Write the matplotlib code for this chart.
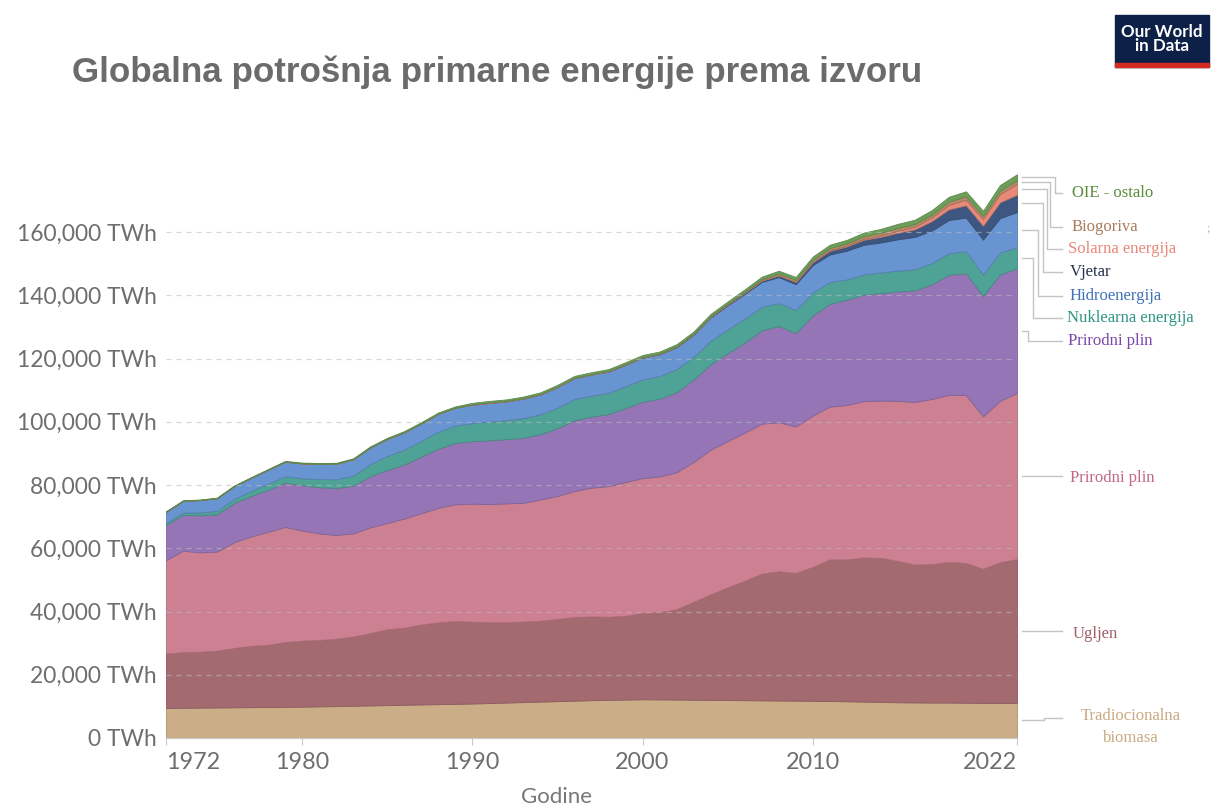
import matplotlib.pyplot as plt
import matplotlib.colors as mcolors
from matplotlib.patches import Rectangle
from matplotlib.lines import Line2D
import numpy as np

W, H = 1218, 806

# godine i vrijednosti (tisuće TWh), očitano sa slike
years = list(range(1972, 2023))

biomasa = [9.50, 9.55, 9.60, 9.65, 9.70, 9.75, 9.80, 9.85, 9.90,
           10.00, 10.10, 10.20, 10.30, 10.40, 10.50, 10.60, 10.70, 10.80, 10.90,
           11.05, 11.20, 11.35, 11.50, 11.65, 11.80, 11.95, 12.05, 12.15, 12.25,
           12.20, 12.15, 12.10, 12.05, 12.00, 11.95, 11.90, 11.85, 11.80, 11.75,
           11.70, 11.60, 11.50, 11.40, 11.30, 11.25, 11.20, 11.20, 11.15, 11.10,
           11.10, 11.10]
ugljen = [17.2, 17.65, 17.7, 18.0, 18.8, 19.4, 19.7, 20.5, 20.9,
          21.0, 21.3, 21.9, 22.9, 24.0, 24.4, 25.3, 25.9, 26.2, 25.9,
          25.6, 25.4, 25.5, 25.6, 26.0, 26.5, 26.5, 26.3, 26.5, 27.3,
          27.6, 28.6, 31.0, 33.4, 35.7, 37.8, 40.1, 40.9, 40.4, 42.4,
          44.8, 44.9, 45.6, 45.6, 44.7, 43.6, 43.8, 44.5, 44.2, 42.4,
          44.5, 45.5]
nafta = [29.6, 32.0, 31.4, 31.3, 33.4, 34.6, 35.7, 36.4, 34.8,
         33.7, 32.8, 32.6, 33.4, 33.6, 34.5, 35.2, 36.2, 36.9, 37.3,
         37.3, 37.6, 37.5, 38.3, 38.9, 39.8, 40.7, 41.3, 42.3, 42.6,
         42.9, 43.3, 44.2, 45.7, 46.2, 46.8, 47.4, 47.1, 46.3, 47.8,
         48.3, 48.8, 49.4, 49.7, 50.6, 51.4, 52.2, 52.8, 53.1, 48.2,
         51.0, 52.5]
plin = [11.1, 11.4, 11.7, 11.8, 12.4, 12.8, 13.3, 14.0, 14.3,
        14.6, 14.8, 15.1, 16.2, 16.8, 17.1, 17.9, 18.7, 19.4, 19.8,
        20.2, 20.3, 20.6, 20.7, 21.4, 22.4, 22.5, 22.8, 23.4, 24.2,
        24.6, 25.3, 26.1, 27.0, 27.8, 28.5, 29.5, 30.4, 29.6, 31.7,
        32.5, 33.3, 33.7, 34.0, 34.6, 35.3, 36.3, 38.0, 38.5, 38.1,
        40.0, 39.4]
nuklearna = [0.55, 0.7, 0.9, 1.1, 1.3, 1.6, 1.9, 2.0, 2.2,
             2.6, 2.8, 3.2, 3.8, 4.4, 4.7, 5.0, 5.4, 5.5, 5.7,
             5.9, 6.0, 6.2, 6.3, 6.5, 6.7, 6.6, 6.7, 6.9, 7.0,
             7.2, 7.3, 7.2, 7.5, 7.5, 7.6, 7.4, 7.3, 7.2, 7.3,
             6.9, 6.4, 6.4, 6.5, 6.6, 6.7, 6.7, 6.8, 7.0, 6.7,
             6.9, 6.7]
hidro = [3.6, 3.7, 3.95, 4.0, 4.05, 4.15, 4.45, 4.65, 4.75,
         4.8, 4.95, 5.15, 5.3, 5.4, 5.5, 5.5, 5.65, 5.65, 5.8,
         5.95, 5.95, 6.2, 6.25, 6.55, 6.6, 6.7, 6.75, 6.8, 6.95,
         6.85, 6.95, 6.95, 7.35, 7.6, 7.8, 7.9, 8.2, 8.2, 8.6,
         8.7, 9.1, 9.35, 9.5, 9.9, 10.2, 10.3, 10.5, 10.6, 11.1,
         10.9, 11.1]
vjetar = [0] * 18 + [0.01, 0.01, 0.01, 0.01, 0.02, 0.02, 0.03, 0.03, 0.04, 0.06, 0.08,
                     0.10, 0.14, 0.17, 0.22, 0.28, 0.35, 0.45, 0.58, 0.73, 0.93,
                     1.15, 1.35, 1.6, 1.8, 2.1, 2.4, 3.0, 3.4, 3.9, 4.4,
                     5.0, 5.5]
solar = [0] * 36 + [0.03, 0.05, 0.08, 0.16, 0.25, 0.34, 0.45, 0.6, 0.8, 1.1,
                    1.4, 1.75, 2.1, 2.6, 3.4]
biogoriva = [0] * 18 + [0.12, 0.12, 0.12, 0.12, 0.12, 0.13, 0.13, 0.13, 0.13, 0.12, 0.12,
                        0.13, 0.15, 0.18, 0.2, 0.25, 0.32, 0.42, 0.55, 0.6, 0.7,
                        0.72, 0.72, 0.78, 0.85, 0.88, 0.9, 0.95, 1.05, 1.1, 1.0,
                        1.1, 1.2]
ostalo = [0.15, 0.16, 0.17, 0.18, 0.19, 0.2, 0.21, 0.22, 0.24,
          0.26, 0.28, 0.3, 0.32, 0.34, 0.36, 0.38, 0.4, 0.42, 0.45,
          0.47, 0.49, 0.5, 0.52, 0.54, 0.55, 0.57, 0.58, 0.6, 0.62,
          0.63, 0.65, 0.67, 0.7, 0.72, 0.75, 0.8, 0.85, 0.9, 0.98,
          1.05, 1.1, 1.15, 1.2, 1.3, 1.35, 1.4, 1.5, 1.55, 1.6,
          1.75, 1.85]

series = [biomasa, ugljen, nafta, plin, nuklearna, hidro, vjetar, solar, biogoriva, ostalo]
area_colors = ['#cbad87', '#a36a70', '#cd8091', '#9575b5', '#4fa396',
               '#6894d2', '#3e5782', '#e98a78', '#b5896a', '#6ca05a']

labels = ['Tradiocionalna\nbiomasa', 'Ugljen', 'Prirodni plin', 'Prirodni plin',
          'Nuklearna energija', 'Hidroenergija', 'Vjetar', 'Solarna energija',
          'Biogoriva', 'OIE - ostalo']
label_colors = ['#c9aa82', '#9c5f68', '#c26884', '#7a48a8', '#2f9584',
                '#3f72b8', '#25304a', '#e8887a', '#a97a5e', '#5b8c3a']

yticks = [0, 20, 40, 60, 80, 100, 120, 140, 160]
xticks = [1972, 1980, 1990, 2000, 2010, 2022]


def fx(x):
    return x / W


def fy(y):
    return 1 - y / H


fig = plt.figure(figsize=(W / 100, H / 100), dpi=100)
ax = fig.add_axes([fx(166), fy(738), (1017 - 166) / W, (738 - 168.75) / H])

polys = ax.stackplot(years, *series, colors=area_colors, linewidth=0.6)
for p, c in zip(polys, area_colors):
    r, g, b = mcolors.to_rgb(c)
    p.set_edgecolor((r * 0.85, g * 0.85, b * 0.85))

ax.set_xlim(1972, 2022)
ax.set_ylim(0, 180)

ax.set_yticks(yticks)
ax.set_yticklabels([f'{v * 1000:,} TWh' if v else '0 TWh' for v in yticks])
ax.yaxis.grid(True, linestyle=(0, (4, 4)), color='#bdbdbd', alpha=0.6, lw=0.9)
ax.set_axisbelow(False)
for gl in ax.yaxis.get_gridlines()[:1]:
    gl.set_visible(False)

ax.set_xticks(xticks)
ax.set_xticklabels([str(x) for x in xticks])
tl = ax.get_xticklabels()
tl[0].set_horizontalalignment('left')
tl[-1].set_horizontalalignment('right')

for s in ['left', 'top', 'right']:
    ax.spines[s].set_visible(False)
ax.spines['bottom'].set_color('#c8c8c8')
ax.tick_params(axis='y', length=0, pad=6.5, labelsize=16.4, labelcolor='#6e6e6e')
ax.tick_params(axis='x', length=5, color='#c8c8c8', pad=5, labelsize=16.8, labelcolor='#6e6e6e')
for t in ax.get_xticklabels() + ax.get_yticklabels():
    t.set_fontfamily('Lato')

fig.text(fx(557), fy(797), 'Godine', ha='center', va='center',
         fontsize=16, color='#777777', family='Lato')

fig.text(fx(72), fy(72), 'Globalna potrošnja primarne energije prema izvoru',
         ha='left', va='center', fontsize=25.2, fontweight='bold',
         color='#6b6b6b', family='Liberation Sans')

# logo
fig.add_artist(Rectangle((fx(1115), fy(67)), 94 / W, 52 / H,
                         transform=fig.transFigure, color='#0d2148'))
fig.add_artist(Rectangle((fx(1115), fy(67)), 94 / W, 4 / H,
                         transform=fig.transFigure, color='#d42b21'))
fig.text(fx(1162), fy(39), 'Our World\nin Data', ha='center', va='center',
         fontsize=12.2, fontweight='bold', color='white', family='Lato',
         linespacing=0.92)

# oznake serija s linijama
cum = np.cumsum(np.array(series), axis=0)
last = cum[:, -1]
bottoms = np.concatenate([[0], last[:-1]])
mids = (last + bottoms) / 2


def pix_y(v):
    return H - ax.transData.transform((2022, v))[1]


label_pos = [(1131, 727), (1073, 634), (1070, 478), (1068, 341),
             (1067, 318), (1070, 296), (1070, 272), (1068, 249),
             (1072, 227), (1072, 193)]
corner_x = [1044, 1044, 1044, 1028, 1033, 1038, 1043, 1047, 1050, 1055]

for i in range(len(series)):
    ys = pix_y(mids[i])
    lx, ly = label_pos[i]
    xc = corner_x[i]
    if i == 0:
        ly_line = ys - 2.5
    elif i in (1, 2):
        ly_line = ys
    else:
        ly_line = ly
    xs = [1022, xc, xc, 1062]
    yss = [ys, ys, ly_line, ly_line]
    fig.add_artist(Line2D([fx(v) for v in xs], [fy(v) for v in yss],
                          transform=fig.transFigure, color='#c4c4c4', lw=1.0))
    if i == 0:
        fig.text(fx(lx), fy(ly), labels[i], ha='center', va='center',
                 fontsize=12, color=label_colors[i], family='Liberation Serif',
                 linespacing=1.45)
    else:
        fig.text(fx(lx), fy(ly), labels[i], ha='left', va='center',
                 fontsize=12, color=label_colors[i], family='Liberation Serif')

fig.text(fx(1208), fy(228), ';', ha='center', va='center', fontsize=9,
         color='#b0b0b0', family='Liberation Serif')

fig.savefig('out.png', dpi=100)
